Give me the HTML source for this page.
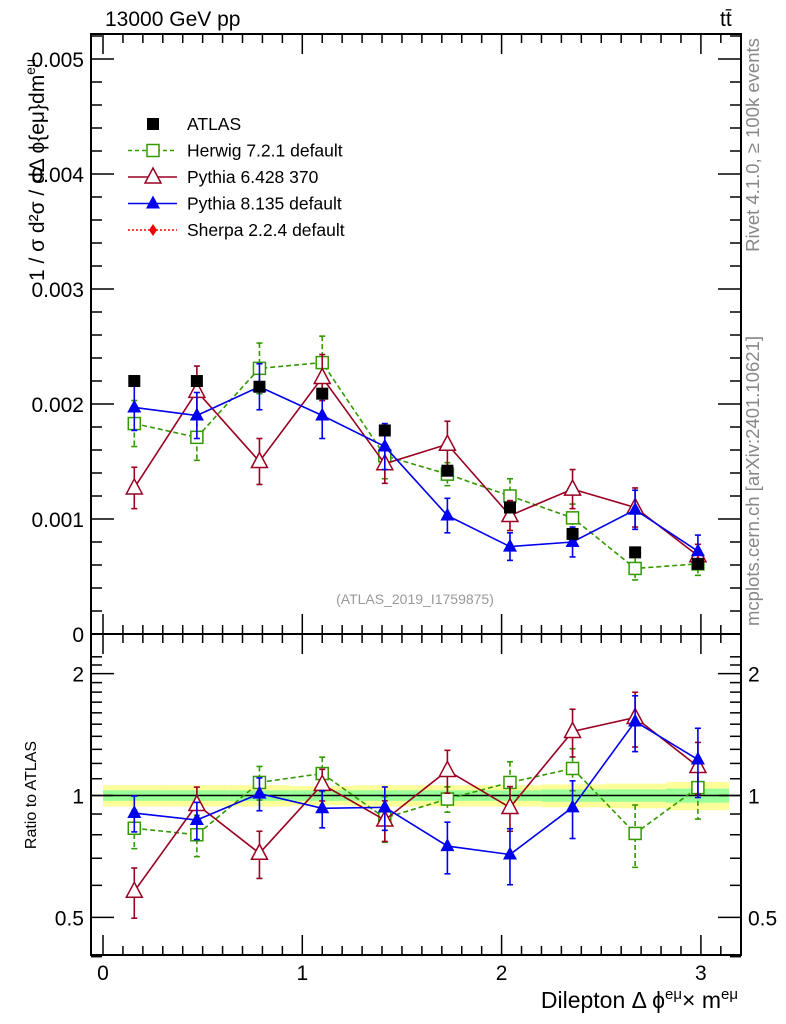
<!DOCTYPE html>
<html><head><meta charset="utf-8"><style>
body{margin:0;background:#fff}
svg{display:block;font-family:"Liberation Sans",sans-serif}
</style></head><body>
<svg id="c" width="786" height="1024" viewBox="0 0 786 1024" xmlns="http://www.w3.org/2000/svg">
<text x="105" y="26" font-size="21">13000 GeV pp</text>
<text x="720" y="26" font-size="21">tt̄</text>
<text transform="translate(759,145) rotate(-90)" text-anchor="middle" font-size="18.5" fill="#888">Rivet 4.1.0, ≥ 100k events</text>
<text transform="translate(759,481) rotate(-90)" text-anchor="middle" font-size="18.5" fill="#888">mcplots.cern.ch [arXiv:2401.10621]</text>
<text transform="translate(44,170) rotate(-90)" text-anchor="middle" font-size="21">1 / σ  d²σ / dΔ ϕ{eμ}dm<tspan dy="-9" font-size="14">eμ</tspan></text>
<text transform="translate(36,795) rotate(-90)" text-anchor="middle" font-size="16">Ratio to ATLAS</text>
<text x="738" y="1008" text-anchor="end" font-size="23">Dilepton Δ ϕ<tspan dy="-9" font-size="15">eμ</tspan><tspan dy="9">× m</tspan><tspan dy="-9" font-size="15">eμ</tspan></text>
<text x="415" y="604" text-anchor="middle" font-size="14" fill="#999">(ATLAS_2019_I1759875)</text>
<g id="g"></g>
</svg>
<script>
const centers=[0.157,0.471,0.785,1.100,1.414,1.728,2.042,2.356,2.670,2.985];
const atlas=[2.20,2.20,2.15,2.09,1.77,1.42,1.10,0.87,0.71,0.61];
const atlasErr=[0.04,0.04,0.04,0.04,0.04,0.04,0.03,0.03,0.03,0.03];
const herwig=[1.83,1.71,2.31,2.36,1.55,1.39,1.20,1.01,0.57,0.61];
const herwigErr=[0.2,0.2,0.22,0.23,0.2,0.1,0.15,0.12,0.1,0.1];
const py6=[1.27,2.11,1.50,2.23,1.48,1.65,1.03,1.26,1.10,0.68];
const py6Err=[0.18,0.22,0.2,0.2,0.17,0.2,0.13,0.17,0.17,0.1];
const py8=[1.97,1.90,2.15,1.90,1.63,1.03,0.76,0.80,1.08,0.72];
const py8Err=[0.2,0.2,0.2,0.2,0.2,0.15,0.12,0.13,0.17,0.14];
const sherpa=[null,null,null,null,null,null,null,null,null,0.63];
const herwigR=[0.83,0.80,1.077,1.133,0.88,0.98,1.077,1.166,0.806,1.046];
const py6R=[0.58,0.95,0.72,1.065,0.87,1.153,0.934,1.439,1.558,1.179];
const py8R=[0.905,0.87,1.011,0.93,0.935,0.75,0.715,0.935,1.523,1.227];
const bandY=[0.06,0.06,0.06,0.055,0.06,0.06,0.06,0.065,0.07,0.08];
const bandG=[0.03,0.03,0.03,0.03,0.03,0.03,0.03,0.035,0.035,0.04];
const mainTicks=[0,1,2,3,4,5];
const mainTickLabels=["0","0.001","0.002","0.003","0.004","0.005"];
const ratioTicks=[0.5,1,2];
const ratioTickLabels=["0.5","1","2"];
const xTicks=[0,1,2,3];

const NS="http://www.w3.org/2000/svg";
const g=document.getElementById('g');
const L=91,R=741,T=34,MB=634,RB=955;
const X=v=>103+v*199.3;
const YM=v=>634-v*115;
const YR=r=>795.5-405*Math.log10(r);
function el(tag,attrs,parent){const e=document.createElementNS(NS,tag);for(const k in attrs)e.setAttribute(k,attrs[k]);(parent||g).appendChild(e);return e;}

for(let i=0;i<centers.length;i++){
  const x0=X(i*Math.PI/10),x1=X((i+1)*Math.PI/10);
  const b=el('rect',{x:x0,y:YR(1+bandY[i]),width:x1-x0,height:YR(1-bandY[i])-YR(1+bandY[i]),fill:'#ffff99'});
  
  
  const c=el('rect',{x:x0,y:YR(1+bandG[i]),width:x1-x0,height:YR(1-bandG[i])-YR(1+bandG[i]),fill:'#99ff99'});
  
  
}
const one=el('line',{x1:L,x2:R,y1:YR(1),y2:YR(1),stroke:'#000','stroke-width':1.5});



for(const [t,b,nm] of [[T,MB,'main-frame'],[MB,RB,'ratio-frame']]){
  const f=el('rect',{x:L,y:t,width:R-L,height:b-t,fill:'none',stroke:'#000','stroke-width':2});
  
  
}
for(let v=0;v<=3.15;v+=0.1){
  const maj=Math.abs(v-Math.round(v))<1e-6;
  const len=maj?20:9;
  for(const [yb,dir] of [[MB,-1],[T,1],[RB,-1],[MB,1]]){
    el('line',{x1:X(v),x2:X(v),y1:yb,y2:yb+dir*len,stroke:'#000','stroke-width':1.5});
  }
}
xTicks.forEach(v=>{const t=el('text',{x:X(v),y:980,'text-anchor':'middle','font-size':21});t.textContent=String(v);
  
  });
for(let k=0;k<=26;k++){
  const v=k*0.2,maj=k%5==0,len=maj?23:11;
  el('line',{x1:L,x2:L+len,y1:YM(v),y2:YM(v),stroke:'#000','stroke-width':1.5});
  el('line',{x1:R,x2:R-len,y1:YM(v),y2:YM(v),stroke:'#000','stroke-width':1.5});
}
mainTicks.forEach((v,i)=>{const t=el('text',{x:84,y:YM(v)+8,'text-anchor':'end','font-size':21});t.textContent=mainTickLabels[i];
  
  });
for(let k=4;k<=22;k++){
  const v=k/10;const maj=ratioTicks.includes(v);const len=maj?23:11;
  el('line',{x1:L,x2:L+len,y1:YR(v),y2:YR(v),stroke:'#000','stroke-width':1.5});
  el('line',{x1:R,x2:R-len,y1:YR(v),y2:YR(v),stroke:'#000','stroke-width':1.5});
}
ratioTicks.forEach((v,i)=>{
  const a=el('text',{x:84,y:YR(v)+8,'text-anchor':'end','font-size':21});a.textContent=ratioTickLabels[i];
  
  
  const b=el('text',{x:748,y:YR(v)+8,'font-size':21});b.textContent=ratioTickLabels[i];
  
  
});

function marker(type,x,y,color){
  if(type==='sq') return el('rect',{x:x-6,y:y-6,width:12,height:12,fill:'#000'});
  if(type==='osq') return el('rect',{x:x-6,y:y-6,width:12,height:12,fill:'#fff',stroke:color,'stroke-width':1.5});
  if(type==='otri') return el('path',{d:`M${x},${y-9}L${x+8},${y+6}L${x-8},${y+6}Z`,fill:'#fff',stroke:color,'stroke-width':1.5});
  if(type==='tri') return el('path',{d:`M${x},${y-8}L${x+7},${y+5}L${x-7},${y+5}Z`,fill:color});
  if(type==='dia') return el('path',{d:`M${x},${y-6}L${x+4},${y}L${x},${y+6}L${x-4},${y}Z`,fill:color});
}
function series(vals,errs,Y,color,dash,type,name,line){
  const pts=[];
  vals.forEach((v,i)=>{if(v==null)return;pts.push([X(centers[i]),Y(v)]);});
  if(line){
    const p=el('polyline',{points:pts.map(p=>p.join(',')).join(' '),fill:'none',stroke:color,'stroke-width':1.6,'stroke-dasharray':dash});
    
    
  }
  vals.forEach((v,i)=>{
    if(v==null)return;
    const x=X(centers[i]);
    if(errs){
      const e=errs(i);
      const y1=Y(v+e),y2=Y(Math.max(v-e,0.01));
      el('line',{x1:x,x2:x,y1:y1,y2:y2,stroke:color,'stroke-width':1.6,'stroke-dasharray':dash});
      el('line',{x1:x-3,x2:x+3,y1:y1,y2:y1,stroke:color,'stroke-width':1.6});
      el('line',{x1:x-3,x2:x+3,y1:y2,y2:y2,stroke:color,'stroke-width':1.6});
    }
    const m=marker(type,x,Y(v),color);
    
    
  });
}
const GR='#339900',RD='#990022',BL='#0000ee';
series(herwig,i=>herwigErr[i],YM,GR,'5,3','osq','herwig',true);
series(py6,i=>py6Err[i],YM,RD,'','otri','pythia6',true);
series(py8,i=>py8Err[i],YM,BL,'','tri','pythia8',true);
series(sherpa,null,YM,'#ee0000','2,2','dia','sherpa',false);
series(atlas,i=>atlasErr[i],YM,'#000','','sq','atlas',false);
series(herwigR,i=>herwigR[i]*herwigErr[i]/herwig[i],YR,GR,'5,3','osq','herwig-ratio',true);
series(py6R,i=>py6R[i]*py6Err[i]/py6[i],YR,RD,'','otri','pythia6-ratio',true);
series(py8R,i=>py8R[i]*py8Err[i]/py8[i],YR,BL,'','tri','pythia8-ratio',true);

const leg=[['ATLAS','sq','#000',null],['Herwig 7.2.1 default','osq',GR,'4,3'],['Pythia 6.428 370','otri',RD,''],['Pythia 8.135 default','tri',BL,''],['Sherpa 2.2.4 default','dia','#ee0000','2,2']];
leg.forEach((l,i)=>{
  const y=124+i*26.5;
  if(l[3]!==null){el('line',{x1:128,x2:177,y1:y,y2:y,stroke:l[2],'stroke-width':1.5,'stroke-dasharray':l[3]});}
  const m=marker(l[1],153,y,l[2]);
  
  
  const t=el('text',{x:187,y:y+6,'font-size':17.5});t.textContent=l[0];
  
  
});
</script>
</body></html>
